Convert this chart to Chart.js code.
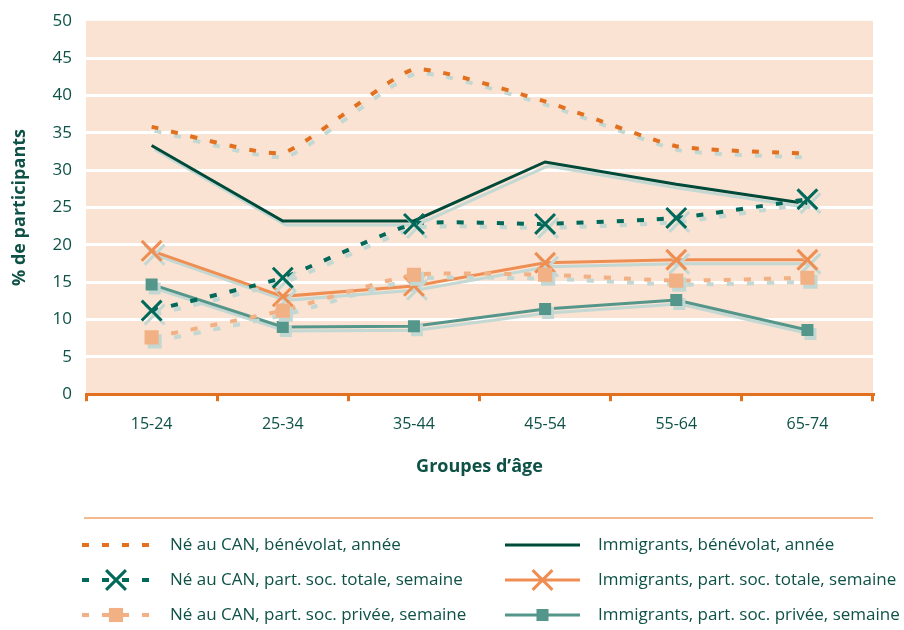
<!DOCTYPE html>
<html>
<head>
<meta charset="utf-8">
<script src="https://cdn.jsdelivr.net/npm/chart.js@4/dist/chart.umd.min.js"></script>
<style>
  html, body { margin: 0; padding: 0; background: #ffffff; }
  #wrap { width: 904px; height: 630px; }
</style>
</head>
<body>
<div id="wrap"><canvas id="chart" width="904" height="630"></canvas></div>
<script>
// age groups and values (% of participants)
const ageGroups = ['15-24', '25-34', '35-44', '45-54', '55-64', '65-74'];
const yTicks = [0, 5, 10, 15, 20, 25, 30, 35, 40, 45, 50];

const canBenevolat = [35.8, 32.3, 43.5, 39.2, 33.2, 32.2];
const canTotale = [11.2, 15.6, 22.8, 22.8, 23.6, 26.1];
const canPrivee = [7.6, 11.2, 16.0, 16.0, 15.2, 15.6];
const immBenevolat = [33.3, 23.2, 23.2, 31.1, 28.1, 25.5];
const immTotale = [19.2, 13.1, 14.5, 17.6, 18.0, 18.0];
const immPrivee = [14.7, 9.0, 9.1, 11.4, 12.6, 8.6];

const labels = [
    'Né au CAN, bénévolat, année',
    'Né au CAN, part. soc. totale, semaine',
    'Né au CAN, part. soc. privée, semaine',
    'Immigrants, bénévolat, année',
    'Immigrants, part. soc. totale, semaine',
    'Immigrants, part. soc. privée, semaine'
];

const textColor = '#0e5247';
const fontFamily = '"Open Sans", "Noto Sans", sans-serif';

// peach plot background
const plotBackground = {
    id: 'plotBackground',
    beforeDraw(chart) {
        const { ctx, chartArea } = chart;
        ctx.save();
        ctx.fillStyle = '#fae3d3';
        ctx.fillRect(chartArea.left, chartArea.top, chartArea.right - chartArea.left, chartArea.bottom - chartArea.top);
        ctx.restore();
    }
};

// grey-blue drop shadow under every series
const seriesShadow = {
    id: 'seriesShadow',
    beforeDatasetDraw(chart) {
        const ctx = chart.ctx;
        ctx.save();
        ctx.shadowColor = '#c3d7d3';
        ctx.shadowOffsetX = 3;
        ctx.shadowOffsetY = 4;
        ctx.shadowBlur = 0;
    },
    afterDatasetDraw(chart) {
        chart.ctx.restore();
    }
};

function drawMarker(ctx, style, r, x, y, color) {
    ctx.save();
    ctx.strokeStyle = color;
    ctx.fillStyle = color;
    ctx.setLineDash([]);
    if (style === 'crossRot') {
        const d = r * Math.SQRT1_2;
        ctx.lineWidth = 3;
        ctx.beginPath();
        ctx.moveTo(x - d, y - d); ctx.lineTo(x + d, y + d);
        ctx.moveTo(x + d, y - d); ctx.lineTo(x - d, y + d);
        ctx.stroke();
    } else if (style === 'rect') {
        const s = r * Math.SQRT1_2;
        ctx.fillRect(x - s, y - s, 2 * s, 2 * s);
    }
    ctx.restore();
}

// legend under the chart, two columns
const bottomLegend = {
    id: 'bottomLegend',
    afterDraw(chart) {
        const ctx = chart.ctx;
        ctx.save();
        ctx.strokeStyle = '#f4b98e';
        ctx.lineWidth = 2;
        ctx.beginPath();
        ctx.moveTo(84, 518);
        ctx.lineTo(873, 518);
        ctx.stroke();

        const rows = [545, 580, 615];
        chart.data.datasets.forEach((ds, i) => {
            const col = i < 3 ? 0 : 1;
            const y = rows[i % 3];
            const x0 = col === 0 ? 82 : 505;
            const x1 = col === 0 ? 150 : 580;
            const tx = col === 0 ? 170 : 598;
            ctx.strokeStyle = ds.borderColor;
            ctx.lineWidth = ds.borderWidth;
            ctx.setLineDash(ds.borderDash || []);
            ctx.beginPath();
            ctx.moveTo(x0, y);
            ctx.lineTo(x1, y);
            ctx.stroke();
            if (ds.pointRadius > 0) {
                drawMarker(ctx, ds.pointStyle, ds.pointRadius, (x0 + x1) / 2, y, ds.pointBackgroundColor);
            }
            ctx.setLineDash([]);
            ctx.fillStyle = textColor;
            ctx.font = '17px ' + fontFamily;
            ctx.textBaseline = 'middle';
            ctx.fillText(ds.label, tx, y);
        });
        ctx.restore();
    }
};

const ctx = document.getElementById('chart').getContext('2d');
new Chart(ctx, {
    type: 'line',
    data: {
        labels: ageGroups,
        datasets: [{
            label: labels[0],
            data: canBenevolat,
            borderColor: '#e2701f',
            borderWidth: 4,
            borderDash: [7, 13],
            tension: 0.15,
            pointRadius: 0
        }, {
            label: labels[1],
            data: canTotale,
            borderColor: '#00695a',
            borderWidth: 4,
            borderDash: [7, 13],
            tension: 0.15,
            pointStyle: 'crossRot',
            pointRadius: 14,
            pointBorderWidth: 3,
            pointBorderColor: '#00695a',
            pointBackgroundColor: '#00695a'
        }, {
            label: labels[2],
            data: canPrivee,
            borderColor: '#f1b184',
            borderWidth: 4,
            borderDash: [7, 13],
            tension: 0.15,
            pointStyle: 'rect',
            pointRadius: 10,
            pointBorderWidth: 0,
            pointBorderColor: '#f1b184',
            pointBackgroundColor: '#f1b184'
        }, {
            label: labels[3],
            data: immBenevolat,
            borderColor: '#004a3a',
            borderWidth: 3,
            pointRadius: 0
        }, {
            label: labels[4],
            data: immTotale,
            borderColor: '#ef8e52',
            borderWidth: 3,
            pointStyle: 'crossRot',
            pointRadius: 14,
            pointBorderWidth: 3,
            pointBorderColor: '#ef8e52',
            pointBackgroundColor: '#ef8e52'
        }, {
            label: labels[5],
            data: immPrivee,
            borderColor: '#55968a',
            borderWidth: 3,
            pointStyle: 'rect',
            pointRadius: 8.5,
            pointBorderWidth: 0,
            pointBorderColor: '#55968a',
            pointBackgroundColor: '#55968a'
        }]
    },
    options: {
        responsive: false,
        animation: false,
        layout: {
            padding: { left: 5, right: 31, top: 0, bottom: 148 }
        },
        scales: {
            x: {
                offset: true,
                border: { display: true, color: '#e2701f', width: 3 },
                grid: {
                    offset: true,
                    drawOnChartArea: false,
                    color: '#e2701f',
                    lineWidth: 3,
                    tickLength: 7
                },
                ticks: {
                    color: textColor,
                    font: { family: fontFamily, size: 16 },
                    padding: 14
                },
                title: {
                    display: true,
                    text: 'Groupes d’âge',
                    color: textColor,
                    font: { family: fontFamily, size: 18, weight: 'bold' },
                    padding: { top: 8 }
                }
            },
            y: {
                min: 0,
                max: 50,
                afterBuildTicks(scale) {
                    scale.ticks = yTicks.map(v => ({ value: v }));
                },
                border: { display: false },
                grid: {
                    color: ctx2 => (ctx2.tick.value === 0 || ctx2.tick.value === 50) ? 'rgba(0,0,0,0)' : '#ffffff',
                    lineWidth: 3,
                    tickLength: 0
                },
                ticks: {
                    color: textColor,
                    font: { family: fontFamily, size: 17, lineHeight: 0.8 },
                    padding: 14
                },
                title: {
                    display: true,
                    text: '% de participants',
                    color: textColor,
                    font: { family: fontFamily, size: 18, weight: 'bold' },
                    padding: { bottom: 8 }
                }
            }
        },
        plugins: {
            legend: { display: false },
            tooltip: { enabled: false }
        }
    },
    plugins: [plotBackground, seriesShadow, bottomLegend]
});
</script>
</body>
</html>
